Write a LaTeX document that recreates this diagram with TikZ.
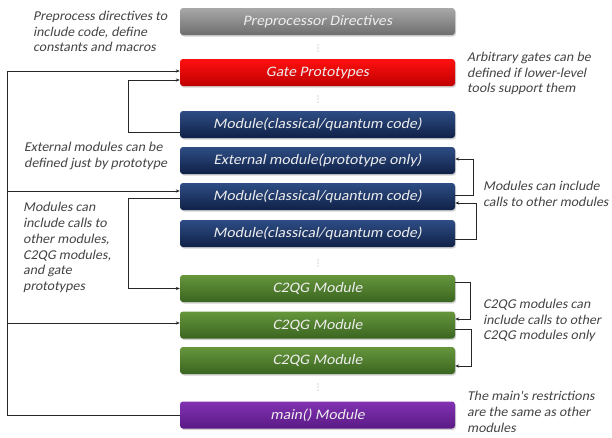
\documentclass[tikz,border=0pt]{standalone}
\usepackage{fontspec}
\setmainfont{Carlito}
\newfontfamily\boxfont{Carlito}[FakeSlant=0.2, FakeStretch=1.08]
\newfontfamily\notefont{Carlito}[FakeSlant=0.2, FakeStretch=1.03]
\usetikzlibrary{shadows,arrows.meta,calc}
\definecolor{greyT}{HTML}{A8A8A8}\definecolor{greyB}{HTML}{6E6E6E}
\definecolor{redT}{HTML}{FF1010}\definecolor{redB}{HTML}{C00000}
\definecolor{navyT}{HTML}{2E4D85}\definecolor{navyB}{HTML}{0F2147}
\definecolor{greenT}{HTML}{66963C}\definecolor{greenB}{HTML}{3A6520}
\definecolor{purpT}{HTML}{8232B2}\definecolor{purpB}{HTML}{5A1A85}
\definecolor{notecol}{HTML}{444444}
\definecolor{boxtext}{HTML}{EDEDED}
\tikzset{
  blk/.style={rounded corners=3pt, minimum width=275pt, minimum height=27pt, inner sep=0pt,
    text=boxtext, font=\boxfont\fontsize{14.5}{16}\selectfont,
    drop shadow={shadow xshift=1pt,shadow yshift=-1.5pt,opacity=0.35}},
  greyb/.style={blk, top color=greyT, bottom color=greyB},
  redb/.style={blk, top color=redT, bottom color=redB},
  navyb/.style={blk, top color=navyT, bottom color=navyB},
  greenb/.style={blk, top color=greenT, bottom color=greenB},
  purpb/.style={blk, top color=purpT, bottom color=purpB},
  note/.style={align=left, anchor=west, inner sep=0pt, text=notecol,
    font=\notefont\fontsize{13.5}{15.8}\selectfont},
  conn/.style={draw=black!85, line width=0.6pt},
  arr/.style={conn, -{Stealth[length=4pt,width=3.2pt]}},
  vdots/.pic={\foreach \d in {-3,0,3} \fill[gray!70] (0,\d) circle (0.65pt);}
}
\begin{document}
\begin{tikzpicture}[x=1pt,y=-1pt]
\useasboundingbox (0,0) rectangle (612,437);
\fill[white] (0,0) rectangle (612,437);

\node[greyb] (pre) at (317.5,21.5) {Preprocessor Directives};
\node[redb] (gate) at (317.5,72.5) {Gate Prototypes};
\node[navyb] (mod1) at (317.5,124.5) {Module(classical/quantum code)};
\node[navyb] (ext) at (317.5,160.5) {External module(prototype only)};
\node[navyb] (mod2) at (317.5,196.5) {Module(classical/quantum code)};
\node[navyb] (mod3) at (317.5,233.5) {Module(classical/quantum code)};
\node[greenb] (c1) at (317.5,288.5) {C2QG Module};
\node[greenb] (c2) at (317.5,325) {C2QG Module};
\node[greenb] (c3) at (317.5,360.5) {C2QG Module};
\node[purpb] (main) at (317.5,415) {main() Module};

\pic at (318,48) {vdots};
\pic at (318,99) {vdots};
\pic at (318,263) {vdots};
\pic at (318,387) {vdots};

\node[note] (n1) at (33,31.5) {Preprocess directives to\\include code, define\\constants and macros};
\node[note] (n2) at (467,73.5) {Arbitrary gates can be\\defined if lower-level\\tools support them};
\node[note] (n3) at (24,156) {External modules can be\\defined just by prototype};
\node[note] (n4) at (483,193.5) {Modules can include\\calls to other modules};
\node[note] (n5) at (23,247.5) {Modules can\\include calls to\\other modules,\\C2QG modules,\\and gate\\prototypes};
\node[note] (n6) at (483,320.5) {C2QG modules can\\include calls to other\\C2QG modules only};
\node[note] (n7) at (467,412) {The main's restrictions\\are the same as other\\modules};

% left spine from main
\coordinate (spine) at ($(main.west)+(-172.5,0)$);
\draw[arr] (main.west) -- (spine) |- ([yshift=1.5pt]gate.west);
\coordinate (m2in) at ([yshift=5.5pt]mod2.west);
\draw[arr] (spine |- m2in) -- (m2in);
\coordinate (c2in) at ([yshift=2pt]c2.west);
\draw[arr] (spine |- c2in) -- (c2in);

% modules to gate / c2qg
\draw[arr] ([yshift=-7.5pt]mod1.west) -- ++(-52,0) |- ([yshift=-7.5pt]gate.west);
\draw[arr] ([yshift=-1.5pt]mod2.west) -- ++(-52,0) |- (c1.west);

% right brackets
\draw[arr] ([yshift=1.5pt]mod2.east) -- ++(18,0) |- ([yshift=1.5pt]ext.east);
\draw[arr] ([yshift=-5.5pt]mod3.east) -- ++(21,0) |- ([yshift=-6.5pt]mod2.east);
\draw[arr] ([yshift=6.5pt]c1.east) -- ++(15,0) |- ([yshift=6pt]c2.east);
\draw[arr] ([yshift=-4pt]c2.east) -- ++(16,0) |- ([yshift=-5.5pt]c3.east);
\end{tikzpicture}
\end{document}
